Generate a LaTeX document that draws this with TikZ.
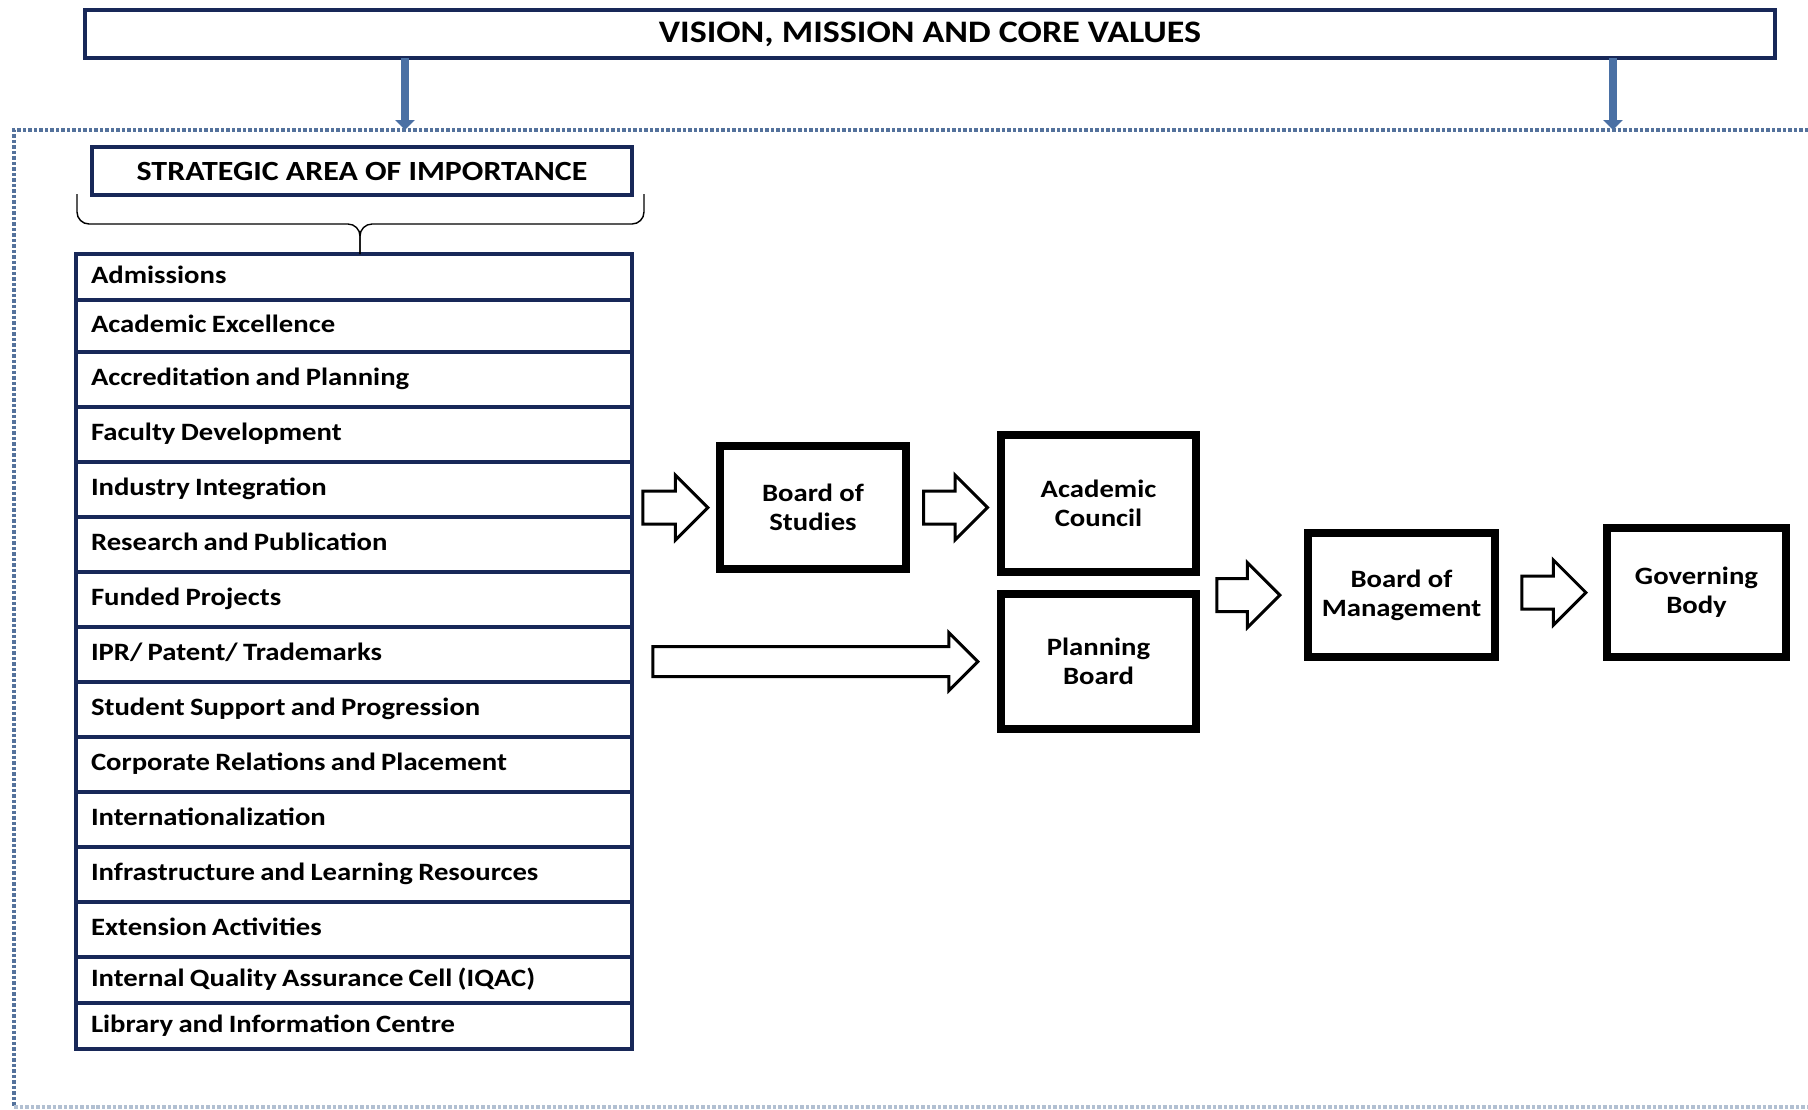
\documentclass[tikz,border=0pt]{standalone}
\usepackage{fontspec}
\setmainfont{Carlito}[FakeStretch=1.15]
\usetikzlibrary{positioning,shapes.arrows,chains,arrows.meta}
\definecolor{navy}{RGB}{24,40,88}
\definecolor{steel}{RGB}{74,112,164}
\definecolor{dots}{RGB}{84,114,156}
\newcommand\tightspaces{\spaceskip=1.5pt plus 0.3pt minus 0.2pt\relax}

\begin{document}
\begin{tikzpicture}[x=0.1mm,y=-0.1mm,
    area/.style={draw=navy,line width=0.35mm,on chain,outer sep=0pt,
        minimum height=5.5mm,text width=52.6mm,inner xsep=1.5mm,
        inner ysep=0pt,align=left,text height=1.7mm,text depth=0.5mm,
        font=\bfseries\fontsize{7.1}{8.5}\selectfont,
        execute at begin node=\tightspaces},
    body/.style={draw=black,line width=0.8mm,align=center,outer sep=0pt,
        font=\bfseries\fontsize{7.1}{8.3}\selectfont},
    fat/.style={single arrow,draw=black,line width=0.3mm,fill=white,
        inner xsep=0pt,inner ysep=1.5mm,minimum width=0pt,
        single arrow head extend=1.6mm},
    feed/.style={draw=steel,line width=0.85mm,
        -{Triangle[width=1.9mm,length=1mm]}},
    frame/.style={draw=dots,line width=0.35mm,
        dash pattern=on 0.35mm off 0.2mm}
    ]
\useasboundingbox (0,0) rectangle (1808,1109);

% dotted frame and the two feeds from the top box
\draw[frame] (1808,130) -- (14,130) -- (14,1107);
\draw[frame,draw=dots!45] (14,1107) -- (1808,1107);
\node[draw=navy,line width=0.4mm,outer sep=0pt,minimum width=169mm,
    minimum height=4.8mm,font=\bfseries\fontsize{8.9}{9}\selectfont]
    (vmc) at (930,34) {VISION, MISSION AND CORE VALUES};
\coordinate (f1) at (405,130);
\coordinate (f2) at (1613,130);
\draw[feed] (vmc.south -| f1) -- (f1);
\draw[feed] (vmc.south -| f2) -- (f2);

\node[draw=navy,line width=0.4mm,outer sep=0pt,minimum width=54mm,
    minimum height=4.8mm,font=\bfseries\fontsize{7.9}{8}\selectfont]
    (sai) at (362,171) {STRATEGIC AREA OF IMPORTANCE};

% the list of areas
\path[start chain=going below,node distance=0pt] (354,254)
  node[area,anchor=north,minimum height=4.6mm] (adm) {Admissions}
  node[area,minimum height=5.2mm] {Academic Excellence}
  node[area] {Accreditation and Planning}
  node[area] {Faculty Development}
  node[area] {Industry Integration}
  node[area] {Research and Publication}
  node[area] {Funded Projects}
  node[area] {IPR/ Patent/ Trademarks}
  node[area] {Student Support and Progression}
  node[area] {Corporate Relations and Placement}
  node[area] {Internationalization}
  node[area] {Infrastructure and Learning Resources}
  node[area] {Extension Activities}
  node[area,minimum height=4.6mm] {Internal Quality Assurance Cell (IQAC)}
  node[area,minimum height=4.6mm] {Library and Information Centre};

% brace under the heading
\coordinate (tip) at (360,254);
\draw[thin,rounded corners=1.2mm] (77,194) -- (77,224) -- (360,224) -- (tip);
\draw[thin,rounded corners=1.2mm] (644,194) -- (644,224) -- (360,224) -- (tip);

% bodies
\node[body,minimum width=18.6mm,minimum height=12.3mm] (bos) at (813,507.5)
    {Board of\\Studies};
\node[body,minimum width=19.5mm,minimum height=13.7mm] (ac) at (1098.5,503.5)
    {Academic\\Council};
\node[body,minimum width=19.5mm,minimum height=13.5mm] (pb) at (1098.5,661.5)
    {Planning\\Board};
\node[body,minimum width=18.7mm,minimum height=12.4mm] (bom) at (1401.5,595)
    {Board of\\Management};
\node[body,minimum width=17.9mm,minimum height=12.9mm] (gb) at (1696.5,592.5)
    {Governing\\Body};

\node[fat,minimum height=6.5mm,left=1mm of bos] (a1) {};
\node[fat,minimum height=6.4mm,right=1.6mm of bos] (a2) {};
\node[fat,minimum height=32.5mm,inner ysep=1.35mm,
    single arrow head extend=1.4mm,left=2.1mm of pb] (a3) {};
\node[fat,minimum height=6.3mm,left=2.6mm of bom] (a4) {};
\node[fat,minimum height=6.4mm,left=1.9mm of gb] (a5) {};
\end{tikzpicture}
\end{document}
